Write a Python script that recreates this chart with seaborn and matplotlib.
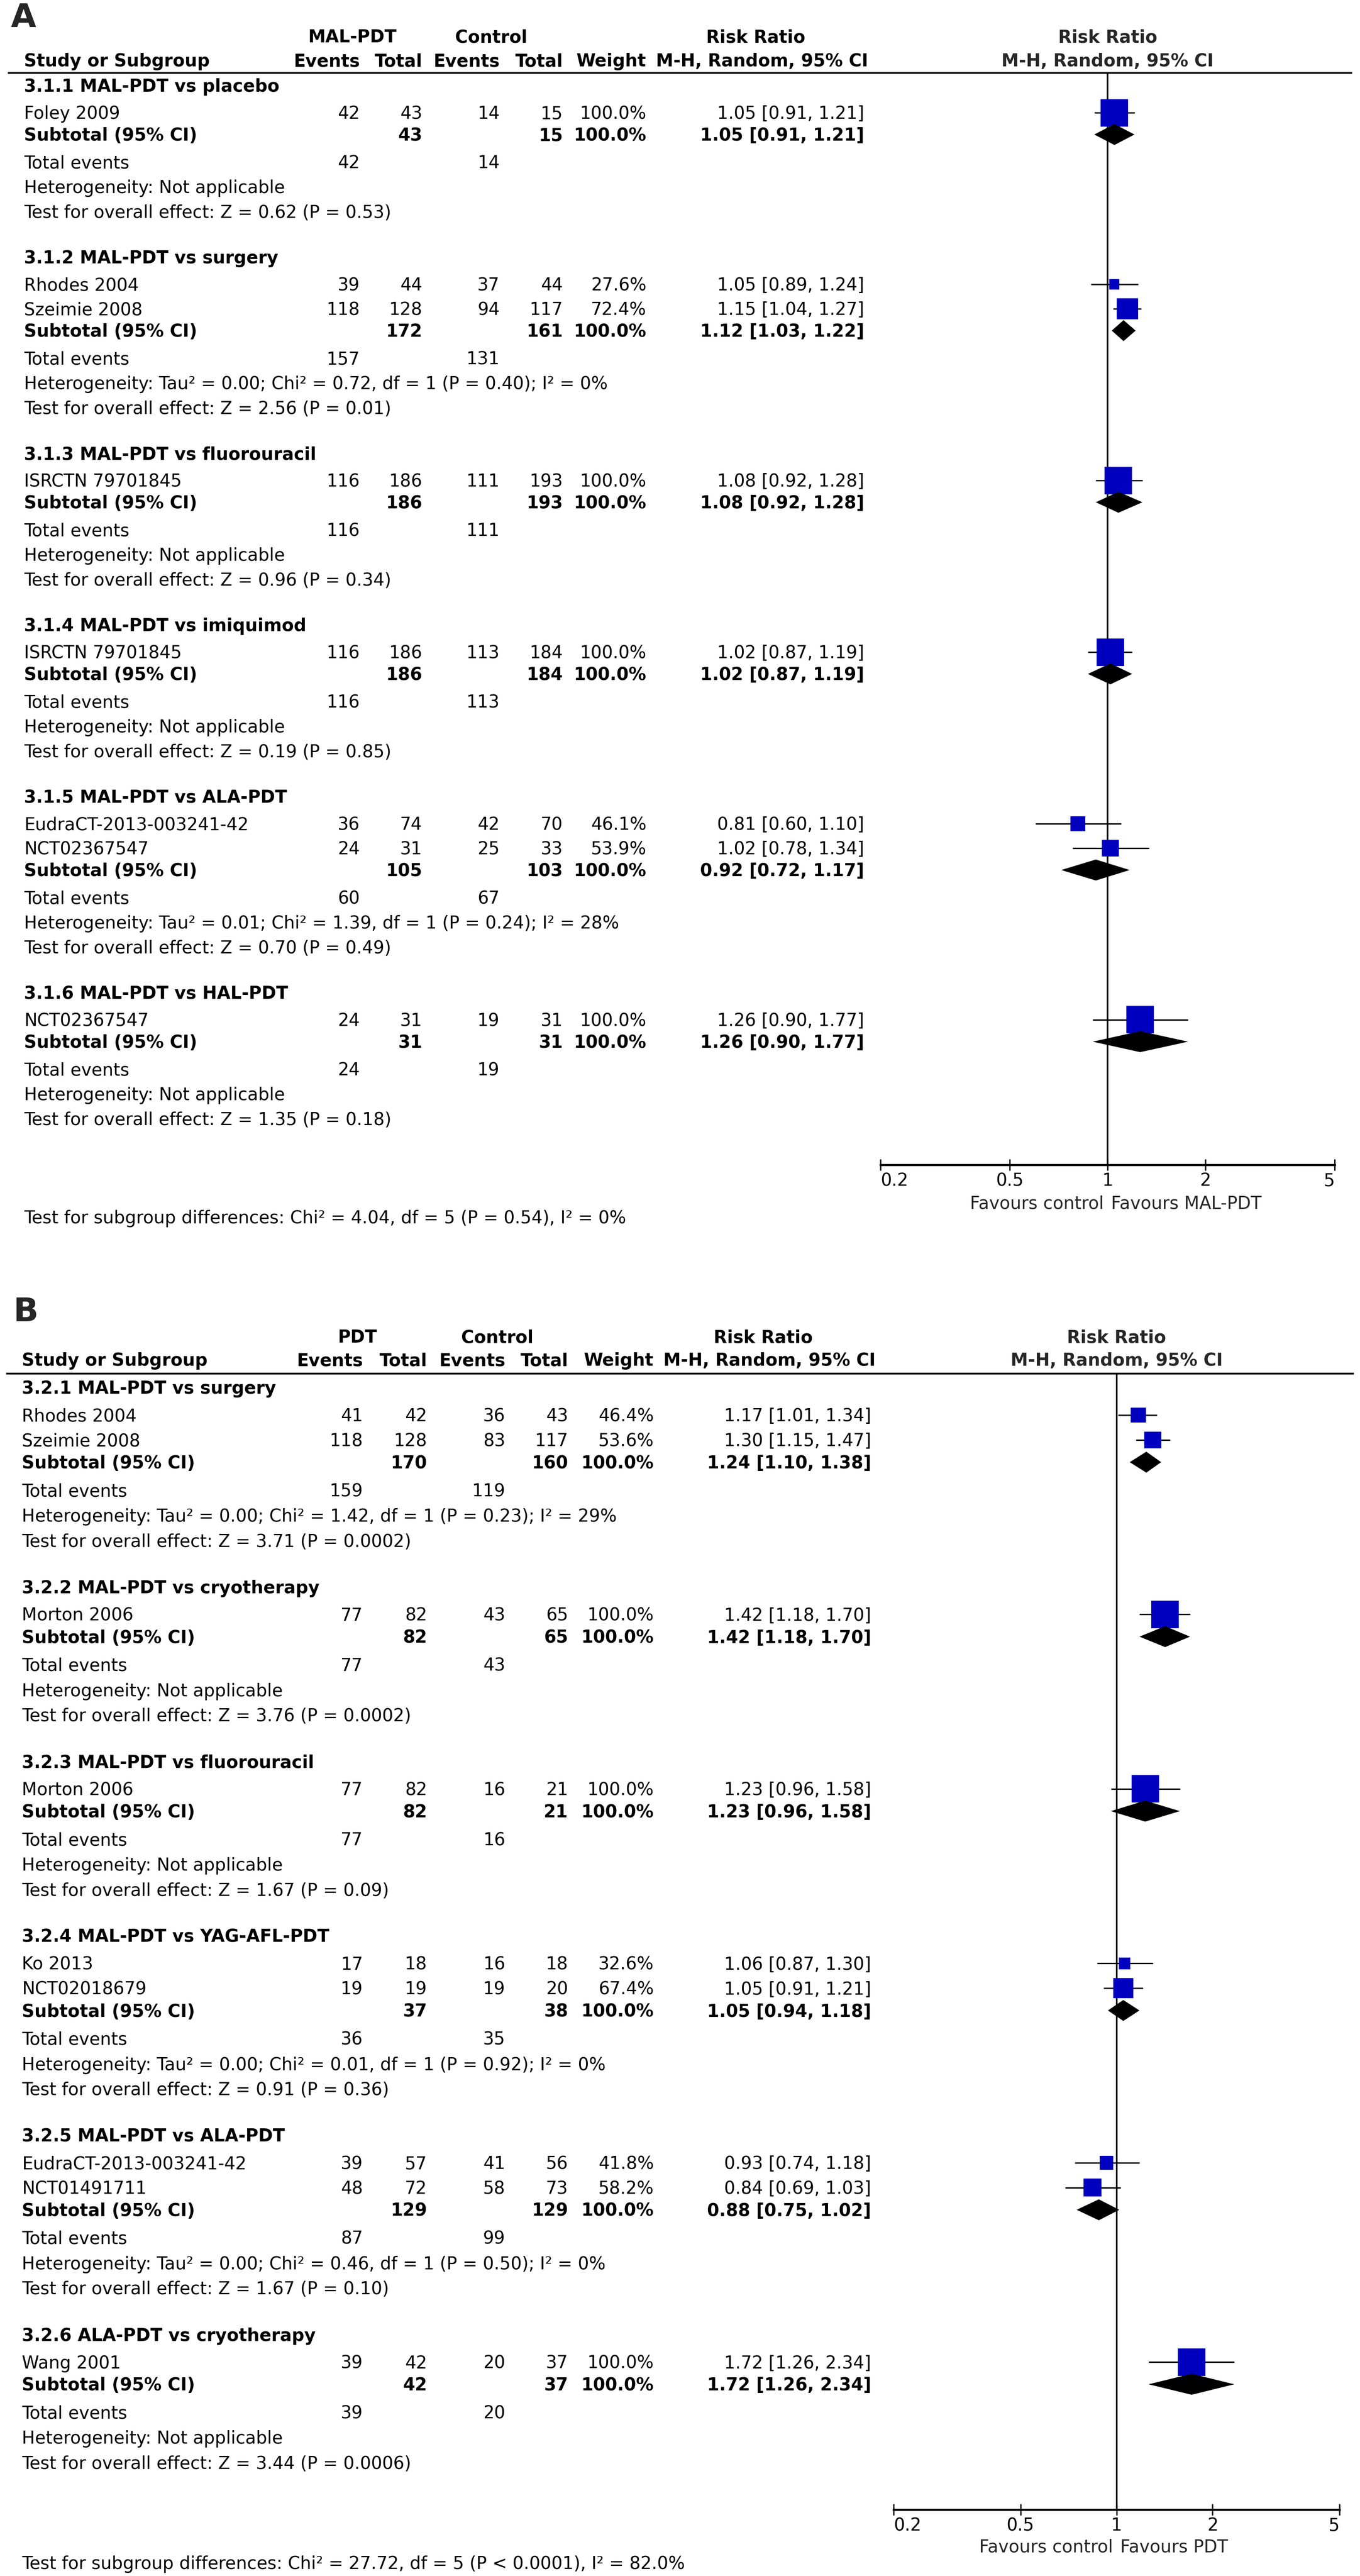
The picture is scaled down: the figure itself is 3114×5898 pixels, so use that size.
import numpy as np
import pandas as pd
import matplotlib
matplotlib.use("Agg")
import matplotlib.pyplot as plt
import matplotlib.transforms as mtransforms
from matplotlib import font_manager
from matplotlib.ticker import NullLocator
import seaborn as sns

W, H, DPI = 3114, 5898, 100

# ======================= DATA : panel A =======================
A_groups = ["3.1.1 MAL-PDT vs placebo", "3.1.2 MAL-PDT vs surgery",
            "3.1.3 MAL-PDT vs fluorouracil", "3.1.4 MAL-PDT vs imiquimod",
            "3.1.5 MAL-PDT vs ALA-PDT", "3.1.6 MAL-PDT vs HAL-PDT"]
A_studies = ["Foley 2009", "Rhodes 2004", "Szeimie 2008", "ISRCTN 79701845",
             "ISRCTN 79701845", "EudraCT-2013-003241-42", "NCT02367547", "NCT02367547"]
A_study_group = [0, 1, 1, 2, 3, 4, 4, 5]
A_ev_exp = [42, 39, 118, 116, 116, 36, 24, 24]
A_tot_exp = [43, 44, 128, 186, 186, 74, 31, 31]
A_ev_ctl = [14, 37, 94, 111, 113, 42, 25, 19]
A_tot_ctl = [15, 44, 117, 193, 184, 70, 33, 31]
A_weight = [100.0, 27.6, 72.4, 100.0, 100.0, 46.1, 53.9, 100.0]
A_rr = [1.05, 1.05, 1.15, 1.08, 1.02, 0.81, 1.02, 1.26]
A_lo = [0.91, 0.89, 1.04, 0.92, 0.87, 0.60, 0.78, 0.90]
A_hi = [1.21, 1.24, 1.27, 1.28, 1.19, 1.10, 1.34, 1.77]
A_sub_tot_exp = [43, 172, 186, 186, 105, 31]
A_sub_tot_ctl = [15, 161, 193, 184, 103, 31]
A_sub_ev_exp = [42, 157, 116, 116, 60, 24]
A_sub_ev_ctl = [14, 131, 111, 113, 67, 19]
A_sub_rr = [1.05, 1.12, 1.08, 1.02, 0.92, 1.26]
A_sub_lo = [0.91, 1.03, 0.92, 0.87, 0.72, 0.90]
A_sub_hi = [1.21, 1.22, 1.28, 1.19, 1.17, 1.77]
A_het = ["Heterogeneity: Not applicable",
         "Heterogeneity: Tau\u00b2 = 0.00; Chi\u00b2 = 0.72, df = 1 (P = 0.40); I\u00b2 = 0%",
         "Heterogeneity: Not applicable",
         "Heterogeneity: Not applicable",
         "Heterogeneity: Tau\u00b2 = 0.01; Chi\u00b2 = 1.39, df = 1 (P = 0.24); I\u00b2 = 28%",
         "Heterogeneity: Not applicable"]
A_test = ["Test for overall effect: Z = 0.62 (P = 0.53)",
          "Test for overall effect: Z = 2.56 (P = 0.01)",
          "Test for overall effect: Z = 0.96 (P = 0.34)",
          "Test for overall effect: Z = 0.19 (P = 0.85)",
          "Test for overall effect: Z = 0.70 (P = 0.49)",
          "Test for overall effect: Z = 1.35 (P = 0.18)"]
A_subgroup_test = "Test for subgroup differences: Chi\u00b2 = 4.04, df = 5 (P = 0.54), I\u00b2 = 0%"
A_exp_name = "MAL-PDT"
A_favours = ("Favours control", "Favours MAL-PDT")

# ======================= DATA : panel B =======================
B_groups = ["3.2.1 MAL-PDT vs surgery", "3.2.2 MAL-PDT vs cryotherapy",
            "3.2.3 MAL-PDT vs fluorouracil", "3.2.4 MAL-PDT vs YAG-AFL-PDT",
            "3.2.5 MAL-PDT vs ALA-PDT", "3.2.6 ALA-PDT vs cryotherapy"]
B_studies = ["Rhodes 2004", "Szeimie 2008", "Morton 2006", "Morton 2006", "Ko 2013",
             "NCT02018679", "EudraCT-2013-003241-42", "NCT01491711", "Wang 2001"]
B_study_group = [0, 0, 1, 2, 3, 3, 4, 4, 5]
B_ev_exp = [41, 118, 77, 77, 17, 19, 39, 48, 39]
B_tot_exp = [42, 128, 82, 82, 18, 19, 57, 72, 42]
B_ev_ctl = [36, 83, 43, 16, 16, 19, 41, 58, 20]
B_tot_ctl = [43, 117, 65, 21, 18, 20, 56, 73, 37]
B_weight = [46.4, 53.6, 100.0, 100.0, 32.6, 67.4, 41.8, 58.2, 100.0]
B_rr = [1.17, 1.30, 1.42, 1.23, 1.06, 1.05, 0.93, 0.84, 1.72]
B_lo = [1.01, 1.15, 1.18, 0.96, 0.87, 0.91, 0.74, 0.69, 1.26]
B_hi = [1.34, 1.47, 1.70, 1.58, 1.30, 1.21, 1.18, 1.03, 2.34]
B_sub_tot_exp = [170, 82, 82, 37, 129, 42]
B_sub_tot_ctl = [160, 65, 21, 38, 129, 37]
B_sub_ev_exp = [159, 77, 77, 36, 87, 39]
B_sub_ev_ctl = [119, 43, 16, 35, 99, 20]
B_sub_rr = [1.24, 1.42, 1.23, 1.05, 0.88, 1.72]
B_sub_lo = [1.10, 1.18, 0.96, 0.94, 0.75, 1.26]
B_sub_hi = [1.38, 1.70, 1.58, 1.18, 1.02, 2.34]
B_het = ["Heterogeneity: Tau\u00b2 = 0.00; Chi\u00b2 = 1.42, df = 1 (P = 0.23); I\u00b2 = 29%",
         "Heterogeneity: Not applicable",
         "Heterogeneity: Not applicable",
         "Heterogeneity: Tau\u00b2 = 0.00; Chi\u00b2 = 0.01, df = 1 (P = 0.92); I\u00b2 = 0%",
         "Heterogeneity: Tau\u00b2 = 0.00; Chi\u00b2 = 0.46, df = 1 (P = 0.50); I\u00b2 = 0%",
         "Heterogeneity: Not applicable"]
B_test = ["Test for overall effect: Z = 3.71 (P = 0.0002)",
          "Test for overall effect: Z = 3.76 (P = 0.0002)",
          "Test for overall effect: Z = 1.67 (P = 0.09)",
          "Test for overall effect: Z = 0.91 (P = 0.36)",
          "Test for overall effect: Z = 1.67 (P = 0.10)",
          "Test for overall effect: Z = 3.44 (P = 0.0006)"]
B_subgroup_test = "Test for subgroup differences: Chi\u00b2 = 27.72, df = 5 (P < 0.0001), I\u00b2 = 82.0%"
B_exp_name = "PDT"
B_favours = ("Favours control", "Favours PDT")

tick_values = [0.2, 0.5, 1, 2, 5]
tick_labels = ["0.2", "0.5", "1", "2", "5"]

# ======================= LAYOUT (pixels) =======================
A_cfg = dict(label="A", label_x=25, label_y=35, hdr1_y=83, hdr2_y=138, line_y=167,
             first_y=196, scale=1.0, study_x=55, cols=[824, 967, 1144, 1289, 1480],
             ci_x=1979, exp_hdr_x=807, ctl_hdr_x=1125, rr_hdr_x=1730, mh_hdr_x=1745,
             plot_x0=2016, plot_x1=3056, line_x0=18, line_x1=3096,
             axis_gap=106, tick_gap=36, fav_gap=86, sub_gap=120)
B_cfg = dict(label="B", label_x=30, label_y=2998, hdr1_y=3060, hdr2_y=3113, line_y=3145,
             first_y=3177, scale=1.0165, study_x=50, cols=[831, 978, 1157, 1301, 1497],
             ci_x=1995, exp_hdr_x=818, ctl_hdr_x=1139, rr_hdr_x=1747, mh_hdr_x=1762,
             plot_x0=2046, plot_x1=3067, line_x0=14, line_x1=3100,
             axis_gap=108, tick_gap=38, fav_gap=83, sub_gap=122)

BLUE = "#0000BE"

sns.set_theme(style="white")
_names = {f.name for f in font_manager.fontManager.ttflist}
FAMILY = "DejaVu Sans"
for cand in ["DejaVu Sans Condensed", "Liberation Sans Narrow"]:
    if cand in _names:
        FAMILY = cand
        break
plt.rcParams["font.family"] = [FAMILY, "DejaVu Sans"]
plt.rcParams["axes.facecolor"] = "white"
plt.rcParams["figure.facecolor"] = "white"

fig = plt.figure(figsize=(W / DPI, H / DPI), dpi=DPI)

# fit font size to the reference width of a body line (limit the glyph height)
renderer = fig.canvas.get_renderer()
_t = fig.text(0, 0, "Test for overall effect: Z = 0.62 (P = 0.53)", fontsize=20)
_w = _t.get_window_extent(renderer).width
_t.remove()
FS = 20 * 858.0 / _w
FS = min(FS, 40.0 * 72 / DPI)
EM = FS * DPI / 72.0
BASE = 0.36 * EM  # baseline offset from visual centre


def layout(cfg, n_groups, study_group):
    s = cfg["scale"]
    y = cfg["first_y"]
    hdr_y, sub_y, tev_y, het_y, tst_y, study_y = [], [], [], [], [], []
    for g in range(n_groups):
        idx = [i for i, sg in enumerate(study_group) if sg == g]
        hdr_y.append(y)
        ys = [y + s * (62 + 56 * k) for k in range(len(idx))]
        study_y.extend(ys)
        sub = ys[-1] + s * 50
        sub_y.append(sub)
        tev_y.append(sub + s * 63)
        het_y.append(tev_y[-1] + s * 57)
        tst_y.append(het_y[-1] + s * 56)
        y = tst_y[-1] + s * 105
    return hdr_y, study_y, sub_y, tev_y, het_y, tst_y


def draw_panel(cfg, groups, studies, study_group, ev_e, tot_e, ev_c, tot_c, weight,
               rr, lo, hi, sub_tot_e, sub_tot_c, sub_ev_e, sub_ev_c, sub_rr, sub_lo, sub_hi,
               het, test, subgroup_test, exp_name, favours):
    hdr_y, study_y, sub_y, tev_y, het_y, tst_y = layout(cfg, len(groups), study_group)
    axis_y = tst_y[-1] + cfg["axis_gap"]
    line_y = cfg["line_y"]

    ax = fig.add_axes([cfg["plot_x0"] / W, 1 - axis_y / H,
                       (cfg["plot_x1"] - cfg["plot_x0"]) / W, (axis_y - line_y) / H])
    ax.set_xscale("log")
    xpx = mtransforms.Affine2D().scale(1.0 / W, 1.0) + mtransforms.blended_transform_factory(
        fig.transFigure, mtransforms.IdentityTransform())
    tr = mtransforms.blended_transform_factory(xpx, ax.transData)

    def put(x, y, s, ha="left", bold=False, size=None):
        ax.text(x, y + BASE, s, transform=tr, ha=ha, va="baseline",
                fontsize=size or FS, fontweight="bold" if bold else "normal",
                color="black", clip_on=False)

    c = cfg["cols"]
    # panel label and headers
    ax.text(cfg["label_x"], cfg["label_y"] + 27, cfg["label"], transform=tr,
            ha="left", va="baseline", fontsize=75 * 72 / DPI, fontweight="bold", clip_on=False)
    put(cfg["exp_hdr_x"], cfg["hdr1_y"], exp_name, ha="center", bold=True)
    put(cfg["ctl_hdr_x"], cfg["hdr1_y"], "Control", ha="center", bold=True)
    put(cfg["rr_hdr_x"], cfg["hdr1_y"], "Risk Ratio", ha="center", bold=True)
    put(cfg["study_x"], cfg["hdr2_y"], "Study or Subgroup", bold=True)
    for x, lab in zip(c, ["Events", "Total", "Events", "Total", "Weight"]):
        put(x, cfg["hdr2_y"], lab, ha="right", bold=True)
    put(cfg["mh_hdr_x"], cfg["hdr2_y"], "M-H, Random, 95% CI", ha="center", bold=True)
    ax.text(1, cfg["hdr1_y"] + BASE, "Risk Ratio", ha="center", va="baseline",
            fontsize=FS, fontweight="bold", clip_on=False)
    ax.text(1, cfg["hdr2_y"] + BASE, "M-H, Random, 95% CI", ha="center", va="baseline",
            fontsize=FS, fontweight="bold", clip_on=False)
    ax.plot([cfg["line_x0"], cfg["line_x1"]], [line_y, line_y], transform=tr,
            color="black", lw=3.0, clip_on=False, solid_capstyle="butt")

    # study rows
    for i, name in enumerate(studies):
        y = study_y[i]
        put(cfg["study_x"], y, name)
        put(c[0], y, str(ev_e[i]), ha="right")
        put(c[1], y, str(tot_e[i]), ha="right")
        put(c[2], y, str(ev_c[i]), ha="right")
        put(c[3], y, str(tot_c[i]), ha="right")
        put(c[4], y, f"{weight[i]:.1f}%", ha="right")
        put(cfg["ci_x"], y, f"{rr[i]:.2f} [{lo[i]:.2f}, {hi[i]:.2f}]", ha="right")

    # subgroup rows
    for g, gname in enumerate(groups):
        put(cfg["study_x"], hdr_y[g], gname, bold=True)
        put(cfg["study_x"], sub_y[g], "Subtotal (95% CI)", bold=True)
        put(c[1], sub_y[g], str(sub_tot_e[g]), ha="right", bold=True)
        put(c[3], sub_y[g], str(sub_tot_c[g]), ha="right", bold=True)
        put(c[4], sub_y[g], "100.0%", ha="right", bold=True)
        put(cfg["ci_x"], sub_y[g], f"{sub_rr[g]:.2f} [{sub_lo[g]:.2f}, {sub_hi[g]:.2f}]",
            ha="right", bold=True)
        put(cfg["study_x"], tev_y[g], "Total events")
        put(c[0], tev_y[g], str(sub_ev_e[g]), ha="right")
        put(c[2], tev_y[g], str(sub_ev_c[g]), ha="right")
        put(cfg["study_x"], het_y[g], het[g])
        put(cfg["study_x"], tst_y[g], test[g])

    put(cfg["study_x"], axis_y + cfg["sub_gap"], subgroup_test)

    # forest marks
    ax.axvline(1, color="black", lw=2.6, zorder=1)
    ax.hlines(study_y, lo, hi, color="black", lw=2.3, zorder=2)
    side_pt = [63 * (w / 100.0) ** 0.78 * 72.0 / DPI for w in weight]
    df = pd.DataFrame({"rr": rr, "y": study_y, "area": [s_ ** 2 for s_ in side_pt]})
    sns.scatterplot(data=df, x="rr", y="y", size="area",
                    sizes={a: a for a in df["area"].unique()}, marker="s",
                    color=BLUE, linewidth=0, legend=False, ax=ax, zorder=3)
    half = 24
    for g in range(len(groups)):
        y = sub_y[g]
        ax.fill([sub_lo[g], sub_rr[g], sub_hi[g], sub_rr[g]],
                [y, y - half, y, y + half], color="black", lw=0, zorder=4)

    ax.set_xlim(0.2, 5)
    ax.set_ylim(axis_y, line_y)
    ax.set_xlabel("")
    ax.set_ylabel("")
    ax.set_yticks([])
    ax.set_xticks(tick_values)
    ax.set_xticklabels(tick_labels)
    ax.xaxis.set_minor_locator(NullLocator())
    ax.tick_params(axis="x", direction="inout", length=19, width=2.2, pad=3,
                   labelsize=FS, colors="black", bottom=True)
    labs = ax.get_xticklabels()
    labs[0].set_horizontalalignment("left")
    labs[-1].set_horizontalalignment("right")
    for sp in ["top", "left", "right"]:
        ax.spines[sp].set_visible(False)
    ax.spines["bottom"].set_linewidth(3.6)
    ax.spines["bottom"].set_color("black")
    ax.patch.set_alpha(0)

    ax.annotate(favours[0], xy=(1, axis_y + cfg["fav_gap"] + BASE), xycoords="data",
                xytext=(-6, 0), textcoords="offset points", ha="right", va="baseline",
                fontsize=FS, annotation_clip=False)
    ax.annotate(favours[1], xy=(1, axis_y + cfg["fav_gap"] + BASE), xycoords="data",
                xytext=(6, 0), textcoords="offset points", ha="left", va="baseline",
                fontsize=FS, annotation_clip=False)


draw_panel(A_cfg, A_groups, A_studies, A_study_group, A_ev_exp, A_tot_exp, A_ev_ctl,
           A_tot_ctl, A_weight, A_rr, A_lo, A_hi, A_sub_tot_exp, A_sub_tot_ctl,
           A_sub_ev_exp, A_sub_ev_ctl, A_sub_rr, A_sub_lo, A_sub_hi, A_het, A_test,
           A_subgroup_test, A_exp_name, A_favours)
draw_panel(B_cfg, B_groups, B_studies, B_study_group, B_ev_exp, B_tot_exp, B_ev_ctl,
           B_tot_ctl, B_weight, B_rr, B_lo, B_hi, B_sub_tot_exp, B_sub_tot_ctl,
           B_sub_ev_exp, B_sub_ev_ctl, B_sub_rr, B_sub_lo, B_sub_hi, B_het, B_test,
           B_subgroup_test, B_exp_name, B_favours)

fig.savefig("out.png", dpi=DPI, facecolor="white")
